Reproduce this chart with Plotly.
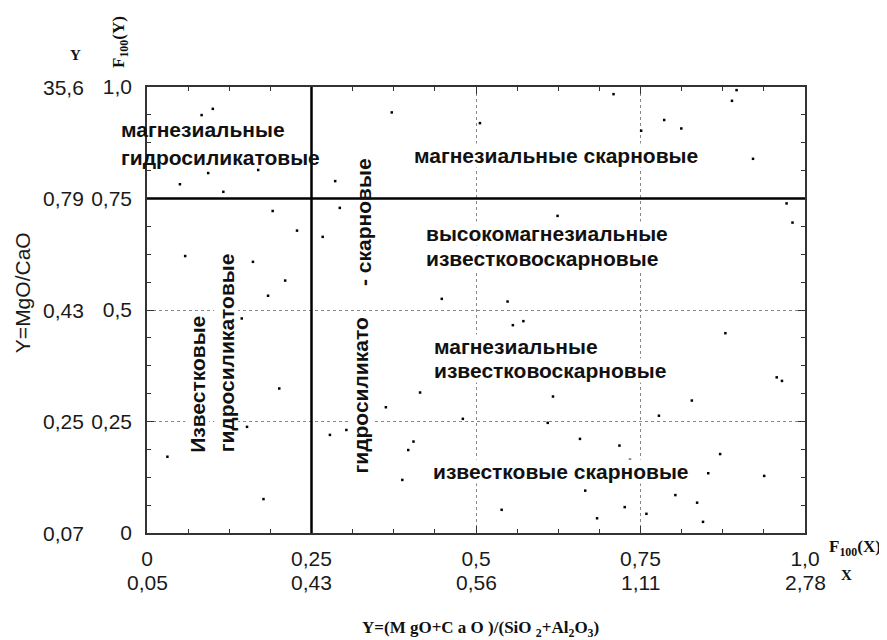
import plotly.graph_objects as go

# ---------------- data ----------------
# sample points in F100 (normalised) coordinates
pts_x = [0.100, 0.083, 0.372, 0.506, 0.093, 0.169, 0.050, 0.116, 0.286, 0.293,
         0.191, 0.228, 0.267, 0.058, 0.161, 0.210, 0.184, 0.448, 0.144, 0.709,
         0.896, 0.889, 0.786, 0.812, 0.751, 0.921, 0.624, 0.972, 0.981, 0.548,
         0.879, 0.556, 0.572, 0.957, 0.965, 0.617, 0.828, 0.778, 0.609, 0.658,
         0.718, 0.871, 0.734, 0.853, 0.938, 0.666, 0.803, 0.539, 0.726, 0.836,
         0.759, 0.684, 0.845, 0.201, 0.152, 0.031, 0.177, 0.363, 0.415, 0.480,
         0.278, 0.303, 0.405, 0.397, 0.388]
pts_y = [0.951, 0.937, 0.943, 0.919, 0.807, 0.814, 0.782, 0.765, 0.789, 0.729,
         0.722, 0.678, 0.664, 0.621, 0.608, 0.566, 0.532, 0.525, 0.481, 0.984,
         0.993, 0.969, 0.926, 0.907, 0.902, 0.839, 0.711, 0.739, 0.696, 0.519,
         0.448, 0.466, 0.475, 0.349, 0.341, 0.306, 0.297, 0.263, 0.247, 0.211,
         0.196, 0.177, 0.164, 0.134, 0.128, 0.095, 0.085, 0.052, 0.058, 0.068,
         0.043, 0.033, 0.025, 0.324, 0.238, 0.171, 0.076, 0.282, 0.315, 0.256,
         0.220, 0.231, 0.205, 0.186, 0.119]

# tick values and labels
f_ticks = [0, 0.25, 0.5, 0.75, 1.0]
fx_labels = ["0", "0,25", "0,5", "0,75", "1,0"]
fy_labels = ["0", "0,25", "0,5", "0,75", "1,0"]
x_raw_labels = ["0,05", "0,43", "0,56", "1,11", "2,78"]
y_raw_labels = ["0,07", "0,25", "0,43", "0,79", "35,6"]

# class boundaries
bound_x = [0.25]
bound_y = [0.75]

# field labels: (text, x, y, white background)
field_labels = [
    ("магнезиальные", -0.041, 0.905, False),
    ("гидросиликатовые", -0.041, 0.843, False),
    ("магнезиальные скарновые", 0.404, 0.847, True),
    ("высокомагнезиальные", 0.4225, 0.672, True),
    ("известковоскарновые", 0.4225, 0.616, True),
    ("магнезиальные", 0.4347, 0.419, True),
    ("известковоскарновые", 0.4347, 0.365, True),
    ("известковые скарновые", 0.433, 0.138, True),
]
rot_labels = [
    ("Известковые", 0.0765, 0.333, True),
    ("гидросиликатовые", 0.120, 0.405, True),
    ("гидросиликато", 0.325, 0.308, True),
    ("- скарновые", 0.328, 0.697, False),
]

# ---------------- figure ----------------
fig = go.Figure()
fig.add_trace(go.Scatter(
    x=pts_x, y=pts_y, mode="markers",
    marker=dict(symbol="square", size=2.5, color="black", line=dict(width=0)),
    hoverinfo="skip", showlegend=False, cliponaxis=False))

shapes = []
for bx in bound_x:
    shapes.append(dict(type="line", xref="x", yref="y", x0=bx, x1=bx, y0=0, y1=1,
                       line=dict(color="black", width=2.5), layer="above"))
for by in bound_y:
    shapes.append(dict(type="line", xref="x", yref="y", x0=0, x1=1, y0=by, y1=by,
                       line=dict(color="black", width=2.5), layer="above"))

tfont = dict(family="Liberation Sans, Arial", size=21, color="#1a1a1a")
ffont = dict(family="Liberation Sans, Arial", size=21, color="#111111")
sfont = dict(family="Liberation Serif, Times New Roman", size=17, color="#111111")
sfont_s = dict(family="Liberation Serif, Times New Roman", size=15, color="#111111")

ann = []
for t, x, y, bg in field_labels:
    ann.append(dict(text="<b>" + t + "</b>", x=x, y=y, xref="paper", yref="paper",
                    xanchor="left", yanchor="middle", align="left", showarrow=False,
                    font=ffont, bgcolor="white" if bg else "rgba(0,0,0,0)", borderpad=0))
for t, x, y, bg in rot_labels:
    ann.append(dict(text="<b>" + t + "</b>", x=x, y=y, xref="paper", yref="paper",
                    xanchor="center", yanchor="middle", textangle=-90, showarrow=False,
                    font=ffont, bgcolor="white" if bg else "rgba(0,0,0,0)", borderpad=0))

# secondary (raw value) tick rows
for v, lab in zip(f_ticks, y_raw_labels):
    ann.append(dict(text=lab, x=-0.093, y=v, xref="paper", yref="paper", xanchor="right",
                    yanchor="middle", showarrow=False, font=tfont))
for v, lab in zip(f_ticks, x_raw_labels):
    ann.append(dict(text=lab, x=v, y=-0.112, xref="paper", yref="paper", xanchor="center",
                    yanchor="middle", showarrow=False, font=tfont))

ann += [
    dict(text="<b>F<sub>100</sub>(X)</b>", x=1.033, y=-0.034, xref="paper", yref="paper",
         xanchor="left", yanchor="middle", showarrow=False, font=sfont),
    dict(text="<b>X</b>", x=1.052, y=-0.094, xref="paper", yref="paper",
         xanchor="left", yanchor="middle", showarrow=False, font=sfont_s),
    dict(text="<b>Y</b>", x=-0.109, y=1.072, xref="paper", yref="paper",
         xanchor="center", yanchor="middle", showarrow=False, font=sfont_s),
    dict(text="<b>F<sub>100</sub>(Y)</b>", x=-0.041, y=1.101, xref="paper", yref="paper",
         xanchor="center", yanchor="middle", textangle=-90, showarrow=False, font=sfont),
    dict(text="<b>Y=(M gO+C a O )/(SiO <sub>2</sub>+Al<sub>2</sub>O<sub>3</sub>)</b>",
         x=0.507, y=-0.216, xref="paper", yref="paper",
         xanchor="center", yanchor="middle", showarrow=False, font=sfont),
    dict(text="Y=MgO/CaO", x=-0.19, y=0.540, xref="paper", yref="paper",
         xanchor="center", yanchor="middle", textangle=-90, showarrow=False,
         font=dict(family="Liberation Sans, Arial", size=21, color="#1a1a1a")),
]

axis_common = dict(
    range=[0, 1], tickvals=f_ticks, ticks="inside", ticklen=7, tickwidth=1,
    tickcolor="#333", showline=True, linecolor="#333", linewidth=1.5, mirror="ticks",
    showgrid=True, gridcolor="#888", griddash="3px,3px", gridwidth=1,
    zeroline=False, tickfont=tfont,
    minor=dict(ticks="inside", dtick=0.0625, tick0=0, ticklen=4, tickcolor="#333",
               showgrid=False),
)

# the page body adds an 8px margin, so the figure is 8px smaller on each axis
fig.update_layout(
    width=879, height=632,
    margin=dict(l=139, r=82, t=79, b=107),
    paper_bgcolor="white", plot_bgcolor="white",
    xaxis=dict(axis_common, ticktext=fx_labels, ticklabelstandoff=6),
    yaxis=dict(axis_common, ticktext=fy_labels, ticklabelstandoff=9),
    shapes=shapes, annotations=ann, showlegend=False,
)

fig.write_html("out.html")
